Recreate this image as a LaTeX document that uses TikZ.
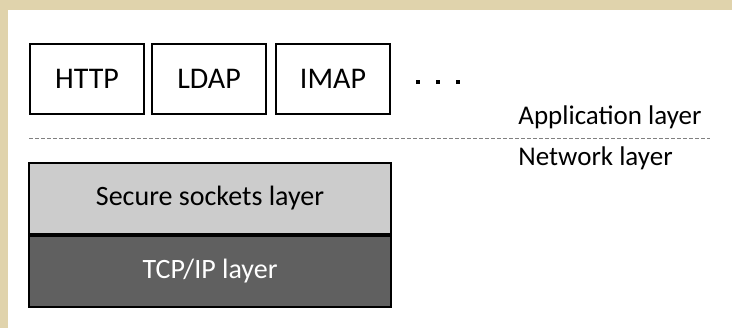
\documentclass[tikz,border=0pt]{standalone}
\usepackage{fontspec}
\setmainfont{Carlito}
\usetikzlibrary{positioning}
\definecolor{parchment}{RGB}{224,211,172}
\definecolor{sslgray}{RGB}{204,204,204}
\definecolor{tcpgray}{RGB}{96,96,96}

\begin{document}
\begin{tikzpicture}[x = 0.5pt, y = -0.5pt,
                        proto/.style = {draw, line width = 1pt, fill = white, minimum width = 57pt,
                                        minimum height = 35pt, font = \fontsize{15}{18}\selectfont},
                        layer/.style = {draw, line width = 1pt, minimum width = 181pt,
                                        minimum height = 35.5pt, font = \fontsize{14}{17}\selectfont},
                        tag/.style = {anchor = west, inner sep = 0pt, font = \fontsize{13.5}{16}\selectfont},
                        dot/.style = {fill = black, minimum size = 2pt, inner sep = 0pt}]
      % background
      \fill [parchment] (0, 0) rectangle (732, 328);
      \fill [white] (8, 10) rectangle (732, 328);
      \useasboundingbox (0, 0) rectangle (732, 328);

      \node [proto] (http) at (87, 79){HTTP};
      \node [proto] (ldap) at (209, 79){LDAP};
      \node [proto] (imap) at (333, 79){IMAP};
      \node [dot] (dota) at (418, 82){};
      \node [dot] (dotb) at (438, 82){};
      \node [dot] (dotc) at (458, 82){};

      \node [tag] (app) at (518, 117){Application layer};
      \coordinate (sepl) at (29, 138);
      \coordinate (sepr) at (710, 138);
      \draw [gray, dashed, dash pattern = on 2pt off 1pt] (sepl) -- (sepr);
      \node [tag] (net) at (518, 158){Network layer};

      \node [layer, fill = sslgray] (ssl) at (210, 198.5){Secure sockets layer};
      \node [layer, fill = tcpgray, text = white, below = 0pt of ssl] (tcp){TCP/IP layer};
      \end{tikzpicture}
\end{document}
